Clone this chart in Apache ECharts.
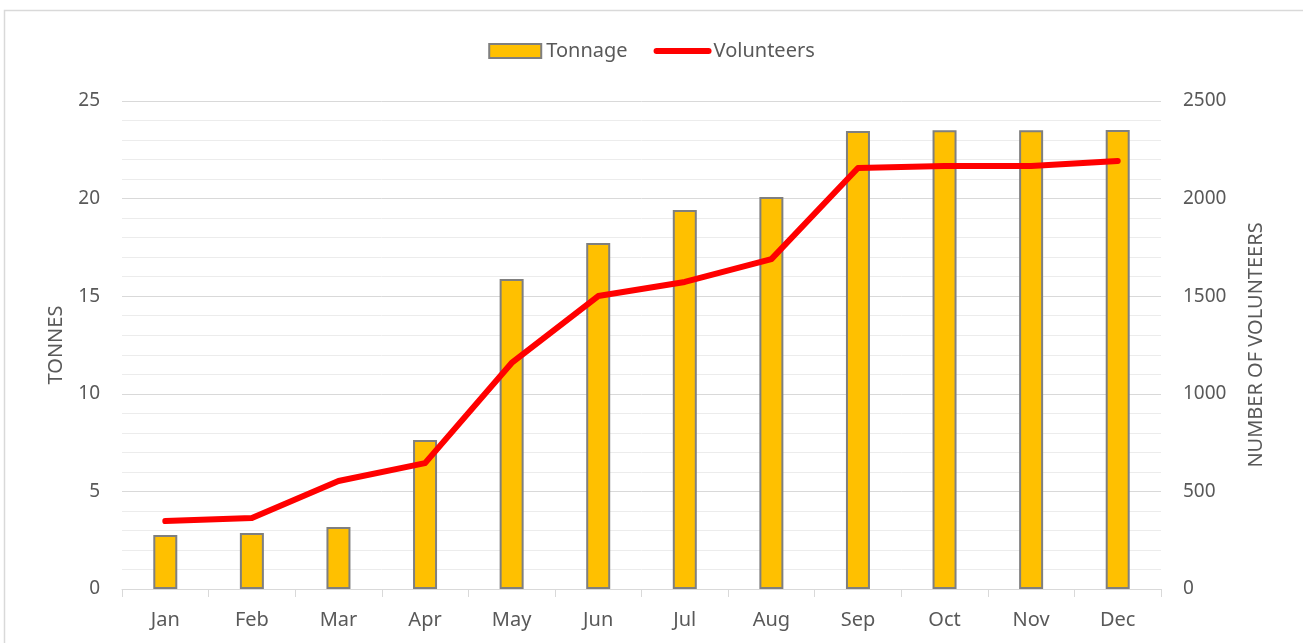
<!DOCTYPE html>
<html>
<head>
<meta charset="utf-8">
<script src="https://cdn.jsdelivr.net/npm/echarts@6/dist/echarts.min.js"></script>
<style>
  html, body { margin: 0; padding: 0; background: #fff; }
  #main { width: 1303px; height: 643px; }
</style>
</head>
<body>
<div id="main"></div>
<script>
var months = ['Jan', 'Feb', 'Mar', 'Apr', 'May', 'Jun', 'Jul', 'Aug', 'Sep', 'Oct', 'Nov', 'Dec'];
var tonnage = [2.77, 2.87, 3.18, 7.63, 15.88, 17.73, 19.42, 20.08, 23.46, 23.5, 23.5, 23.52];
var volunteers = [348, 364, 553, 645, 1158, 1501, 1573, 1690, 2157, 2167, 2167, 2193];

var chart = echarts.init(document.getElementById('main'));
var font = 'Noto Sans';
var grey = '#595959';
chart.setOption({
  animation: false,
  textStyle: { fontFamily: font },
  graphic: [{
    type: 'rect',
    shape: { x: 4.5, y: 10.5, width: 1320, height: 700 },
    style: { fill: 'none', stroke: '#d9d9d9', lineWidth: 1.5 },
    silent: true
  }],
  legend: {
    top: 36,
    left: 'center',
    itemWidth: 52,
    itemHeight: 14,
    itemGap: 26,
    textStyle: { color: grey, fontSize: 20, fontFamily: font },
    data: [
      { name: 'Tonnage', icon: 'rect' },
      {
        name: 'Volunteers',
        itemStyle: { color: 'rgba(0,0,0,0)', borderWidth: 0 },
        lineStyle: { color: '#FF0000', width: 6, cap: 'round' }
      }
    ]
  },
  grid: { left: 122, right: 142, top: 101, bottom: 54, containLabel: false },
  xAxis: {
    type: 'category',
    data: months,
    axisLine: { lineStyle: { color: '#d9d9d9', width: 1 } },
    axisTick: { show: true, length: 8, lineStyle: { color: '#d9d9d9' } },
    axisLabel: { color: grey, fontSize: 20, margin: 21, fontFamily: font }
  },
  yAxis: [{
    type: 'value',
    min: 0, max: 25, interval: 5,
    name: 'TONNES',
    nameLocation: 'middle',
    nameGap: 56,
    nameRotate: 90,
    nameTextStyle: { color: grey, fontSize: 20, fontFamily: font },
    axisLine: { show: false },
    axisTick: { show: false },
    axisLabel: { color: grey, fontSize: 19, margin: 22, fontFamily: font },
    splitLine: { lineStyle: { color: '#d9d9d9', width: 1 } },
    minorTick: { show: false, splitNumber: 5 },
    minorSplitLine: { show: true, lineStyle: { color: '#ececec', width: 1 } }
  }, {
    type: 'value',
    min: 0, max: 2500, interval: 500,
    name: 'NUMBER OF VOLUNTEERS',
    nameLocation: 'middle',
    nameGap: 85,
    nameRotate: 90,
    nameTextStyle: { color: grey, fontSize: 20, fontFamily: font },
    axisLine: { show: false },
    axisTick: { show: false },
    axisLabel: { color: grey, fontSize: 19, margin: 22, fontFamily: font, formatter: function (v) { return String(v); } },
    splitLine: { show: false }
  }],
  series: [{
    name: 'Tonnage',
    type: 'bar',
    data: tonnage,
    barWidth: 24,
    itemStyle: { color: '#FFC000', borderColor: '#7f7f7f', borderWidth: 2 }
  }, {
    name: 'Volunteers',
    type: 'line',
    yAxisIndex: 1,
    data: volunteers,
    symbol: 'none',
    lineStyle: { color: '#FF0000', width: 6, cap: 'round', join: 'round' },
    itemStyle: { color: '#FF0000' }
  }]
});
</script>
</body>
</html>
